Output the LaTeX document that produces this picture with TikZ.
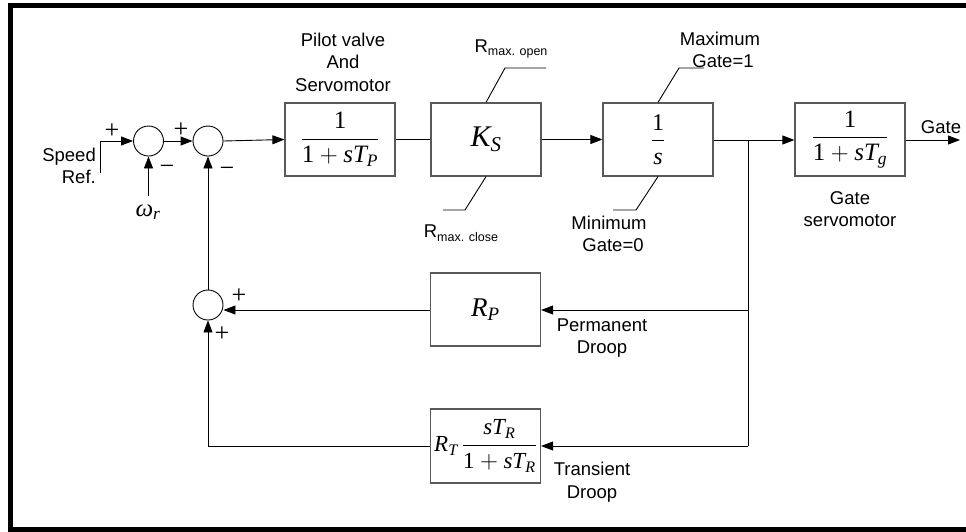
\documentclass[tikz,border=0pt]{standalone}
\usepackage{amsmath}
\usepackage{fontspec}
\setmainfont{Liberation Sans}
\newfontfamily\tms{Liberation Serif}
\usetikzlibrary{arrows.meta}
\newcommand\mi[1]{\text{\tms\itshape #1}}
\newcommand\mr[1]{\text{\tms #1}}
\newcommand\smallsub[1]{\raisebox{-0.35ex}{\fontsize{12.5}{12.5}\selectfont #1}}
\tikzset{
  lbl/.style={font=\fontsize{18.5}{22.5}\selectfont, align=center, inner sep=0},
  blk/.style={draw=black!65, line width=1.2pt, minimum width=110pt, minimum height=73pt, inner sep=0, font=\fontsize{25}{29}\selectfont},
  sumc/.style={circle, draw, line width=0.9pt, minimum size=30pt, inner sep=0},
  wire/.style={line width=0.9pt},
  arr/.style={wire, -{Triangle[length=12pt,width=9pt]}},
  sgn/.style={font=\tms\fontsize{26}{26}\selectfont, inner sep=0},
}
\begin{document}
\begin{tikzpicture}[x=1pt,y=-1pt]
\useasboundingbox (0,0) rectangle (966,531);
% frame
\draw[line width=5pt, line join=miter] (985,5.5) -- (10.5,5.5) -- (10.5,529) -- (985,529);

% summing junctions
\node[sumc] (s1) at (148.5,141) {};
\node[sumc] (s2) at (208,141) {};
\node[sumc] (s3) at (208,305) {};

% blocks
\node[blk] (b1) at (340,139.5) {$\dfrac{\mr{1}}{\mr{1}+\mi{s}\mi{T}_{\mi{P}}}$};
\node[blk, font=\fontsize{30}{34}\selectfont] (bK) at (486,139.5) {$\mi{K}_{\mi{S}}$};
\node[blk, font=\fontsize{24}{28}\selectfont] (b3) at (658,139.5) {$\dfrac{\mr{1}}{\mi{s}}$};
\node[blk] (b4) at (850,139.5) {$\dfrac{\mr{1}}{\mr{1}+\mi{s}\mi{T}_{\mi{g}}}$};
\node[blk, font=\fontsize{27}{31}\selectfont] (bRP) at (485.5,309.5) {$\mi{R}_{\mi{P}}$};
\node[blk, font=\fontsize{23}{27}\selectfont, minimum height=74pt] (bRT) at (485.5,446) {$\mi{R}_{\mi{T}}\,\dfrac{\mi{s}\mi{T}_{\mi{R}}}{\mr{1}+\mi{s}\mi{T}_{\mi{R}}}$};

% coordinates
\coordinate (sr0) at (100,173);
\coordinate (sr1) at (100,141);
\coordinate (w0) at (148.5,196);
\coordinate (j) at (748,140);
\coordinate (jp) at (748,310);
\coordinate (jt) at (748,446);
\coordinate (gout) at (960,140);
\coordinate (ko1) at (505,68);
\coordinate (ko2) at (546,68);
\coordinate (kc1) at (465,210);
\coordinate (kc2) at (443,210);
\coordinate (go1) at (679,68);
\coordinate (go2) at (704,68);
\coordinate (gc1) at (636,210);
\coordinate (gc2) at (613,210);

% forward path
\draw[arr] (sr0) -- (sr1) -- (s1.west);
\draw[arr] (w0) -- (s1.south);
\draw[arr] (s1.east) -- (s2.west);
\draw[arr] (s2.east) -- (b1.west);
\draw[wire] (b1.east) -- (bK.west);
\draw[arr] (bK.east) -- (b3.west);
\draw[wire] (b3.east |- j) -- (j);
\draw[arr] (j) -- (b4.west |- j);
\draw[arr] (b4.east |- gout) -- (gout);

% feedback
\draw[wire] (j) -- (jt);
\draw[arr] (jp) -- (bRP.east |- jp);
\draw[arr] (bRP.west |- jp) -- (s3.east |- jp);
\draw[arr] (jt) -- (bRT.east);
\draw[arr] (bRT.west) -| (s3.south);
\draw[arr] (s3.north) -- (s2.south);

% limiters
\draw[wire] (bK.north) -- (ko1) -- (ko2);
\draw[wire] (bK.south) -- (kc1) -- (kc2);
\draw[wire] (b3.north) -- (go1) -- (go2);
\draw[wire] (b3.south) -- (gc1) -- (gc2);

% signs
\node[sgn] (p1) at (112,131) {+};
\node[sgn] (m1) at (167,170) {−};
\node[sgn] (p2) at (181,130) {+};
\node[sgn] (m2) at (227,172) {−};
\node[sgn] (p3) at (239,296) {+};
\node[sgn] (p4) at (222,334) {+};

% labels
\node[lbl, align=right, anchor=east] (speed) at (96,166) {Speed\\Ref.};
\node[font=\fontsize{25}{29}\selectfont, inner sep=0] (omega) at (148,212) {$\mi{ω}_{\mi{r}}$};
\node[lbl] (pilot) at (343,62) {Pilot valve\\And\\Servomotor};
\node[lbl] (rmo) at (511,49) {R\smallsub{max. open}};
\node[lbl] (rmc) at (461,233) {R\smallsub{max. close}};
\node[lbl] (maxg) at (720,50) {Maximum\\\hspace*{6pt}Gate=1};
\node[lbl] (ming) at (609,234) {Minimum\\\hspace*{8pt}Gate=0};
\node[lbl] (gserv) at (850,209) {Gate\\servomotor};
\node[lbl] (gate) at (941,127) {Gate};
\node[lbl] (perm) at (602,338) {Permanent\\Droop};
\node[lbl] (trans) at (592,482) {Transient\\Droop};
\end{tikzpicture}
\end{document}
